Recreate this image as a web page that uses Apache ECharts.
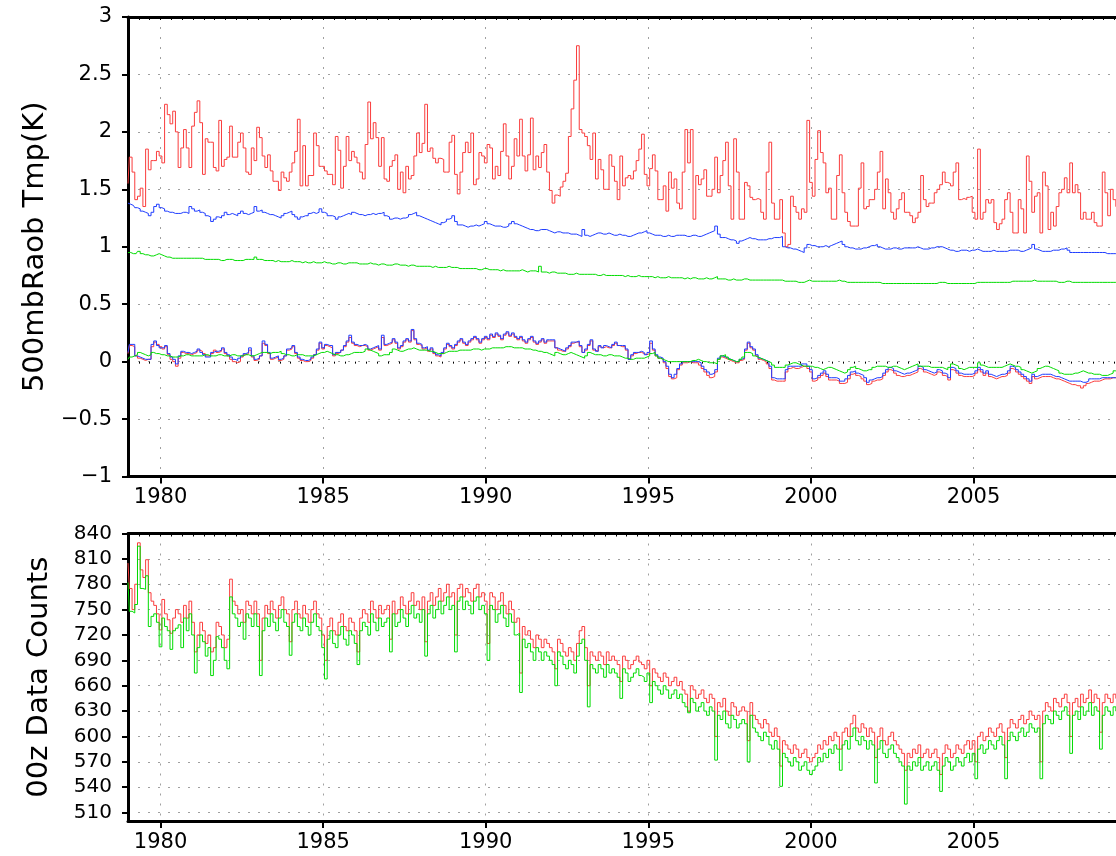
<!DOCTYPE html>
<html>
<head>
<meta charset="utf-8">
<script src="https://cdn.jsdelivr.net/npm/echarts@6/dist/echarts.min.js"></script>
<style>
html, body { margin: 0; padding: 0; background: #fff; overflow: hidden; }
#chart { width: 1116px; height: 856px; }
</style>
</head>
<body>
<div id="chart"></div>
<script>
// Monthly series starting January 1979
const START_YEAR = 1979;
const END_YEAR = 2009.38;

const yearTicks = [1980, 1985, 1990, 1995, 2000, 2005];
const countTicks = [510, 540, 570, 600, 630, 660, 690, 720, 750, 780, 810, 840];

// 500mb radiosonde temperature RMS (K), one value per month
const rmsRed = [
  1.55, 1.78, 1.65, 1.41, 1.44, 1.51, 1.35, 1.85, 1.67, 1.75, 1.75, 1.83,
  1.79, 1.73, 2.24, 2.15, 2.07, 2.18, 2.00, 1.69, 1.86, 2.02, 1.86, 1.69,
  2.05, 2.17, 2.27, 2.08, 1.63, 1.94, 1.91, 1.91, 1.69, 1.66, 2.10, 1.70,
  1.76, 1.78, 2.05, 1.78, 1.78, 1.91, 1.99, 1.86, 1.65, 1.63, 1.86, 1.75,
  2.04, 1.95, 1.79, 1.69, 1.80, 1.66, 1.57, 1.57, 1.49, 1.65, 1.60, 1.57,
  1.65, 1.73, 1.83, 2.11, 1.53, 1.88, 1.53, 1.62, 1.62, 1.99, 1.88, 1.70,
  1.70, 1.66, 1.63, 1.63, 1.54, 1.96, 1.84, 1.51, 1.70, 1.96, 1.75, 1.83,
  1.78, 1.73, 1.65, 1.59, 1.89, 2.26, 1.94, 2.08, 1.95, 1.70, 1.95, 1.59,
  1.57, 1.70, 1.75, 1.80, 1.50, 1.65, 1.47, 1.70, 1.59, 1.62, 1.79, 1.99,
  1.82, 1.90, 2.24, 1.83, 1.86, 1.77, 1.73, 1.77, 1.76, 1.65, 1.65, 1.91,
  1.97, 1.63, 1.46, 1.65, 1.82, 1.91, 1.82, 1.99, 1.54, 1.59, 1.82, 1.79,
  1.73, 1.89, 1.86, 1.59, 1.70, 1.62, 1.83, 2.07, 1.79, 1.59, 1.70, 1.94,
  1.79, 2.11, 1.79, 1.66, 1.80, 2.12, 1.67, 1.79, 1.69, 1.82, 1.89, 1.65,
  1.49, 1.38, 1.45, 1.44, 1.52, 1.57, 1.64, 1.96, 2.20, 2.45, 2.75, 2.02,
  1.99, 1.96, 1.88, 1.76, 1.99, 1.59, 1.76, 1.67, 1.50, 1.50, 1.80, 1.70,
  1.57, 1.41, 1.79, 1.53, 1.60, 1.62, 1.59, 1.66, 1.75, 1.85, 1.98, 1.63,
  1.53, 1.68, 1.80, 1.66, 1.41, 1.41, 1.53, 1.31, 1.65, 1.51, 1.59, 1.38,
  1.33, 1.65, 2.02, 1.73, 2.02, 1.24, 1.62, 1.54, 1.59, 1.67, 1.44, 1.44,
  1.50, 1.78, 1.47, 1.62, 1.75, 1.91, 1.53, 1.24, 1.94, 1.65, 1.24, 1.24,
  1.56, 1.53, 1.43, 1.41, 1.42, 1.41, 1.30, 1.24, 1.65, 1.91, 1.38, 1.24,
  1.24, 1.41, 1.12, 1.00, 1.02, 1.44, 1.35, 1.30, 1.24, 1.33, 1.30, 2.10,
  1.56, 1.44, 1.76, 2.01, 1.82, 1.73, 1.47, 1.51, 1.24, 1.24, 1.62, 1.80,
  1.47, 1.30, 1.22, 1.18, 1.18, 1.18, 1.51, 1.73, 1.33, 1.35, 1.41, 1.41,
  1.50, 1.65, 1.83, 1.33, 1.59, 1.47, 1.30, 1.24, 1.33, 1.41, 1.47, 1.30,
  1.30, 1.27, 1.21, 1.25, 1.30, 1.62, 1.41, 1.35, 1.38, 1.38, 1.47, 1.50,
  1.54, 1.65, 1.56, 1.55, 1.53, 1.65, 1.73, 1.41, 1.42, 1.41, 1.43, 1.44,
  1.30, 1.24, 1.85, 1.24, 1.30, 1.41, 1.38, 1.41, 1.21, 1.15, 1.20, 1.24,
  1.41, 1.47, 1.30, 1.12, 1.12, 1.41, 1.33, 1.12, 1.79, 1.57, 1.30, 1.44,
  1.47, 1.12, 1.65, 1.53, 1.15, 1.30, 1.18, 1.35, 1.47, 1.50, 1.60, 1.47,
  1.73, 1.47, 1.54, 1.47, 1.24, 1.30, 1.24, 1.24, 1.30, 1.21, 1.18, 1.18,
  1.65, 1.47, 1.27, 1.50, 1.41, 1.35
];
const rmsBlue = [
  1.38, 1.37, 1.36, 1.34, 1.33, 1.31, 1.30, 1.29, 1.27, 1.30, 1.35, 1.37,
  1.34, 1.33, 1.31, 1.30, 1.30, 1.29, 1.29, 1.29, 1.30, 1.30, 1.29, 1.35,
  1.33, 1.31, 1.32, 1.30, 1.29, 1.27, 1.26, 1.22, 1.24, 1.26, 1.25, 1.27,
  1.30, 1.28, 1.29, 1.28, 1.27, 1.29, 1.31, 1.29, 1.28, 1.29, 1.30, 1.35,
  1.31, 1.32, 1.30, 1.29, 1.28, 1.28, 1.27, 1.26, 1.25, 1.27, 1.29, 1.30,
  1.31, 1.28, 1.26, 1.24, 1.26, 1.27, 1.27, 1.29, 1.30, 1.29, 1.30, 1.33,
  1.30, 1.29, 1.27, 1.27, 1.26, 1.24, 1.26, 1.27, 1.28, 1.29, 1.28, 1.30,
  1.29, 1.28, 1.28, 1.27, 1.28, 1.28, 1.29, 1.28, 1.29, 1.29, 1.30, 1.27,
  1.26, 1.24, 1.25, 1.25, 1.24, 1.25, 1.25, 1.26, 1.28, 1.29, 1.30, 1.27,
  1.26, 1.25, 1.24, 1.23, 1.22, 1.21, 1.20, 1.19, 1.21, 1.22, 1.24, 1.25,
  1.27, 1.22, 1.19, 1.19, 1.18, 1.17, 1.18, 1.18, 1.19, 1.18, 1.19, 1.20,
  1.22, 1.20, 1.19, 1.18, 1.18, 1.18, 1.17, 1.17, 1.18, 1.20, 1.22, 1.20,
  1.19, 1.18, 1.17, 1.16, 1.15, 1.15, 1.14, 1.14, 1.15, 1.15, 1.15, 1.14,
  1.13, 1.12, 1.13, 1.13, 1.12, 1.12, 1.12, 1.11, 1.11, 1.11, 1.10, 1.09,
  1.15, 1.10, 1.09, 1.10, 1.11, 1.12, 1.12, 1.11, 1.11, 1.12, 1.11, 1.10,
  1.10, 1.11, 1.10, 1.10, 1.09, 1.09, 1.10, 1.11, 1.12, 1.12, 1.13, 1.14,
  1.12, 1.11, 1.10, 1.10, 1.10, 1.09, 1.09, 1.10, 1.09, 1.09, 1.10, 1.10,
  1.10, 1.10, 1.09, 1.09, 1.10, 1.10, 1.09, 1.09, 1.10, 1.11, 1.12, 1.13,
  1.14, 1.18, 1.11, 1.08, 1.08, 1.07, 1.06, 1.06, 1.05, 1.03, 1.05, 1.06,
  1.07, 1.08, 1.07, 1.07, 1.06, 1.06, 1.06, 1.06, 1.07, 1.07, 1.08, 1.08,
  1.08, 1.09, 1.00, 0.99, 0.99, 0.98, 0.98, 0.97, 0.96, 0.95, 0.99, 1.02,
  1.01, 1.01, 1.00, 1.00, 1.00, 1.01, 1.00, 1.01, 1.02, 1.03, 1.04, 1.05,
  1.02, 1.00, 0.99, 0.99, 0.98, 0.98, 0.98, 0.99, 0.99, 1.00, 1.01, 1.01,
  1.02, 1.00, 0.99, 0.98, 0.98, 0.98, 0.99, 0.99, 0.98, 0.98, 0.99, 0.99,
  0.99, 0.99, 0.99, 1.00, 0.99, 0.98, 0.98, 0.98, 0.99, 0.99, 1.00, 1.00,
  1.00, 0.99, 0.98, 0.97, 0.97, 0.96, 0.96, 0.97, 0.97, 0.97, 0.96, 0.97,
  0.97, 0.98, 0.97, 0.96, 0.96, 0.96, 0.96, 0.97, 0.96, 0.96, 0.96, 0.96,
  0.96, 0.97, 0.97, 0.97, 0.97, 0.96, 0.96, 0.97, 0.98, 0.99, 1.02, 0.98,
  0.97, 0.96, 0.96, 0.96, 0.96, 0.97, 0.97, 0.97, 0.98, 0.98, 0.99, 0.97,
  0.95, 0.95, 0.95, 0.95, 0.95, 0.95, 0.95, 0.95, 0.95, 0.95, 0.95, 0.95,
  0.95, 0.94, 0.94, 0.94, 0.94, 0.94
];
const rmsGreen = [
  0.95, 0.95, 0.94, 0.94, 0.96, 0.94, 0.93, 0.93, 0.92, 0.92, 0.93, 0.94,
  0.93, 0.92, 0.91, 0.91, 0.90, 0.90, 0.90, 0.90, 0.90, 0.90, 0.90, 0.90,
  0.90, 0.90, 0.90, 0.90, 0.89, 0.89, 0.89, 0.89, 0.89, 0.89, 0.88, 0.88,
  0.89, 0.89, 0.89, 0.88, 0.88, 0.88, 0.88, 0.89, 0.89, 0.89, 0.89, 0.91,
  0.89, 0.89, 0.88, 0.88, 0.88, 0.88, 0.87, 0.88, 0.87, 0.87, 0.87, 0.87,
  0.88, 0.87, 0.87, 0.87, 0.86, 0.87, 0.86, 0.86, 0.87, 0.86, 0.86, 0.86,
  0.87, 0.86, 0.86, 0.85, 0.85, 0.86, 0.86, 0.85, 0.85, 0.86, 0.86, 0.86,
  0.86, 0.85, 0.85, 0.85, 0.85, 0.86, 0.85, 0.85, 0.84, 0.85, 0.85, 0.84,
  0.84, 0.84, 0.85, 0.85, 0.84, 0.84, 0.84, 0.83, 0.84, 0.84, 0.83, 0.83,
  0.83, 0.83, 0.83, 0.83, 0.82, 0.83, 0.82, 0.82, 0.82, 0.82, 0.83, 0.82,
  0.82, 0.82, 0.81, 0.81, 0.81, 0.81, 0.81, 0.81, 0.81, 0.80, 0.80, 0.81,
  0.81, 0.80, 0.80, 0.80, 0.80, 0.79, 0.80, 0.79, 0.79, 0.79, 0.79, 0.79,
  0.79, 0.80, 0.79, 0.78, 0.79, 0.79, 0.79, 0.78, 0.83, 0.78, 0.78, 0.77,
  0.78, 0.78, 0.77, 0.77, 0.77, 0.77, 0.76, 0.76, 0.76, 0.77, 0.76, 0.76,
  0.76, 0.76, 0.76, 0.76, 0.76, 0.75, 0.75, 0.76, 0.75, 0.75, 0.75, 0.75,
  0.75, 0.75, 0.75, 0.74, 0.75, 0.74, 0.74, 0.74, 0.75, 0.74, 0.74, 0.74,
  0.74, 0.74, 0.73, 0.74, 0.73, 0.73, 0.73, 0.74, 0.73, 0.73, 0.73, 0.73,
  0.73, 0.72, 0.73, 0.72, 0.73, 0.73, 0.72, 0.72, 0.72, 0.73, 0.72, 0.72,
  0.73, 0.74, 0.72, 0.72, 0.72, 0.71, 0.71, 0.72, 0.71, 0.71, 0.71, 0.72,
  0.72, 0.71, 0.71, 0.71, 0.71, 0.71, 0.71, 0.71, 0.71, 0.71, 0.71, 0.71,
  0.71, 0.71, 0.70, 0.70, 0.70, 0.70, 0.70, 0.69, 0.69, 0.69, 0.70, 0.71,
  0.70, 0.70, 0.70, 0.70, 0.70, 0.70, 0.70, 0.70, 0.70, 0.70, 0.71, 0.70,
  0.70, 0.69, 0.69, 0.69, 0.69, 0.69, 0.69, 0.69, 0.69, 0.69, 0.69, 0.69,
  0.69, 0.69, 0.68, 0.68, 0.68, 0.68, 0.68, 0.68, 0.68, 0.68, 0.68, 0.68,
  0.68, 0.68, 0.68, 0.68, 0.68, 0.68, 0.68, 0.68, 0.68, 0.68, 0.68, 0.69,
  0.69, 0.69, 0.68, 0.68, 0.68, 0.68, 0.68, 0.68, 0.68, 0.68, 0.68, 0.68,
  0.68, 0.69, 0.69, 0.69, 0.69, 0.69, 0.69, 0.69, 0.69, 0.69, 0.69, 0.69,
  0.69, 0.69, 0.70, 0.70, 0.70, 0.70, 0.70, 0.70, 0.70, 0.70, 0.71, 0.70,
  0.70, 0.70, 0.70, 0.70, 0.70, 0.70, 0.70, 0.69, 0.69, 0.69, 0.70, 0.70,
  0.69, 0.69, 0.69, 0.69, 0.69, 0.69, 0.69, 0.69, 0.69, 0.69, 0.69, 0.69,
  0.69, 0.69, 0.69, 0.69, 0.69, 0.69
];

// 500mb radiosonde temperature bias (K), one value per month
const biasRed = [
  0.07, 0.14, 0.13, 0.05, 0.03, 0.02, 0.01, 0.02, 0.02, 0.13, 0.17, 0.15,
  0.13, 0.11, 0.13, 0.06, 0.02, 0.00, -0.04, 0.03, 0.08, 0.07, 0.07, 0.06,
  0.07, 0.08, 0.10, 0.09, 0.07, 0.05, 0.05, 0.07, 0.10, 0.08, 0.09, 0.11,
  0.07, 0.05, 0.02, 0.00, -0.01, 0.00, 0.04, 0.06, 0.07, 0.10, 0.04, 0.01,
  0.02, 0.05, 0.16, 0.14, 0.07, 0.02, 0.03, 0.04, 0.01, 0.02, 0.05, 0.10,
  0.11, 0.13, 0.07, 0.03, 0.01, 0.00, 0.00, 0.01, 0.03, 0.06, 0.10, 0.16,
  0.11, 0.14, 0.13, 0.12, 0.05, 0.07, 0.08, 0.10, 0.13, 0.17, 0.21, 0.16,
  0.14, 0.13, 0.14, 0.14, 0.13, 0.10, 0.11, 0.12, 0.13, 0.10, 0.21, 0.14,
  0.15, 0.16, 0.19, 0.16, 0.11, 0.13, 0.17, 0.19, 0.17, 0.27, 0.19, 0.15,
  0.14, 0.11, 0.12, 0.09, 0.11, 0.07, 0.05, 0.04, 0.07, 0.11, 0.15, 0.13,
  0.11, 0.14, 0.17, 0.19, 0.16, 0.14, 0.17, 0.19, 0.21, 0.19, 0.16, 0.19,
  0.21, 0.19, 0.23, 0.21, 0.24, 0.22, 0.19, 0.23, 0.25, 0.22, 0.24, 0.21,
  0.19, 0.21, 0.18, 0.16, 0.19, 0.21, 0.17, 0.15, 0.17, 0.19, 0.16, 0.18,
  0.18, 0.18, 0.12, 0.10, 0.09, 0.09, 0.11, 0.13, 0.16, 0.17, 0.17, 0.13,
  0.08, 0.10, 0.14, 0.18, 0.10, 0.09, 0.13, 0.12, 0.13, 0.12, 0.12, 0.14,
  0.16, 0.14, 0.13, 0.13, 0.10, 0.02, 0.05, 0.07, 0.08, 0.08, 0.07, 0.06,
  0.07, 0.16, 0.10, 0.05, 0.03, 0.02, -0.01, -0.06, -0.13, -0.15, -0.14, -0.07,
  -0.03, -0.01, -0.01, 0.00, -0.01, -0.01, -0.01, -0.03, -0.06, -0.09, -0.12, -0.14,
  -0.13, -0.09, 0.02, 0.04, 0.03, 0.02, 0.01, 0.00, -0.01, -0.01, 0.01, 0.02,
  0.10, 0.16, 0.12, 0.10, 0.05, 0.02, 0.01, 0.00, -0.02, -0.06, -0.16, -0.17,
  -0.17, -0.17, -0.17, -0.09, -0.06, -0.05, -0.06, -0.06, -0.05, -0.04, -0.04, -0.06,
  -0.09, -0.17, -0.16, -0.14, -0.12, -0.10, -0.13, -0.16, -0.16, -0.16, -0.17, -0.19,
  -0.19, -0.18, -0.15, -0.11, -0.10, -0.12, -0.13, -0.15, -0.17, -0.20, -0.19, -0.17,
  -0.16, -0.16, -0.15, -0.12, -0.09, -0.07, -0.08, -0.10, -0.12, -0.13, -0.13, -0.12,
  -0.12, -0.11, -0.10, -0.09, -0.06, -0.07, -0.09, -0.10, -0.11, -0.12, -0.11, -0.09,
  -0.10, -0.12, -0.13, -0.16, -0.07, -0.08, -0.10, -0.12, -0.13, -0.13, -0.13, -0.13,
  -0.12, -0.10, -0.07, -0.09, -0.12, -0.10, -0.13, -0.14, -0.15, -0.14, -0.13, -0.13,
  -0.12, -0.10, -0.06, -0.07, -0.09, -0.11, -0.13, -0.15, -0.17, -0.19, -0.13, -0.15,
  -0.14, -0.13, -0.13, -0.13, -0.13, -0.14, -0.15, -0.15, -0.16, -0.17, -0.18, -0.19,
  -0.20, -0.20, -0.21, -0.21, -0.23, -0.21, -0.19, -0.18, -0.17, -0.17, -0.17, -0.16,
  -0.15, -0.15, -0.15, -0.14, -0.14, -0.14
];
const biasBlue = [
  0.08, 0.15, 0.15, 0.05, 0.04, 0.03, 0.02, 0.02, 0.02, 0.15, 0.18, 0.14,
  0.12, 0.12, 0.14, 0.07, 0.04, 0.02, -0.02, 0.05, 0.09, 0.08, 0.08, 0.07,
  0.08, 0.09, 0.11, 0.08, 0.06, 0.04, 0.04, 0.08, 0.09, 0.09, 0.10, 0.12,
  0.08, 0.06, 0.04, 0.02, 0.01, 0.03, 0.05, 0.07, 0.08, 0.12, 0.05, 0.02,
  0.03, 0.05, 0.18, 0.15, 0.08, 0.03, 0.04, 0.05, 0.02, 0.03, 0.05, 0.11,
  0.12, 0.14, 0.08, 0.04, 0.02, 0.01, 0.01, 0.02, 0.04, 0.06, 0.11, 0.17,
  0.12, 0.15, 0.14, 0.14, 0.06, 0.08, 0.08, 0.10, 0.14, 0.18, 0.23, 0.17,
  0.15, 0.14, 0.14, 0.15, 0.14, 0.11, 0.12, 0.13, 0.14, 0.11, 0.23, 0.15,
  0.16, 0.17, 0.20, 0.17, 0.12, 0.14, 0.18, 0.20, 0.18, 0.28, 0.20, 0.16,
  0.15, 0.12, 0.13, 0.10, 0.12, 0.08, 0.06, 0.05, 0.08, 0.12, 0.16, 0.14,
  0.12, 0.15, 0.18, 0.20, 0.17, 0.15, 0.18, 0.20, 0.22, 0.20, 0.17, 0.20,
  0.22, 0.20, 0.24, 0.22, 0.25, 0.23, 0.20, 0.24, 0.26, 0.23, 0.25, 0.22,
  0.20, 0.22, 0.19, 0.17, 0.20, 0.22, 0.18, 0.16, 0.18, 0.20, 0.17, 0.19,
  0.19, 0.19, 0.12, 0.11, 0.10, 0.09, 0.12, 0.14, 0.17, 0.17, 0.18, 0.14,
  0.08, 0.11, 0.15, 0.19, 0.11, 0.09, 0.14, 0.12, 0.14, 0.13, 0.12, 0.15,
  0.17, 0.14, 0.14, 0.14, 0.11, 0.02, 0.06, 0.08, 0.08, 0.09, 0.08, 0.06,
  0.08, 0.18, 0.11, 0.06, 0.04, 0.03, 0.00, -0.04, -0.11, -0.14, -0.11, -0.06,
  -0.02, 0.00, 0.00, 0.00, 0.00, 0.00, 0.00, -0.01, -0.04, -0.07, -0.09, -0.11,
  -0.10, -0.07, 0.03, 0.05, 0.04, 0.03, 0.02, 0.01, 0.00, 0.00, 0.02, 0.03,
  0.11, 0.17, 0.13, 0.11, 0.06, 0.03, 0.02, 0.01, 0.00, -0.04, -0.14, -0.15,
  -0.15, -0.15, -0.15, -0.07, -0.04, -0.04, -0.04, -0.04, -0.04, -0.02, -0.02, -0.04,
  -0.07, -0.15, -0.14, -0.12, -0.10, -0.08, -0.11, -0.14, -0.14, -0.14, -0.15, -0.17,
  -0.17, -0.15, -0.12, -0.09, -0.08, -0.10, -0.11, -0.12, -0.14, -0.18, -0.16, -0.15,
  -0.14, -0.14, -0.13, -0.10, -0.07, -0.05, -0.06, -0.08, -0.09, -0.10, -0.11, -0.10,
  -0.10, -0.09, -0.08, -0.07, -0.04, -0.05, -0.07, -0.08, -0.09, -0.10, -0.09, -0.07,
  -0.08, -0.10, -0.11, -0.14, -0.05, -0.06, -0.08, -0.10, -0.11, -0.11, -0.11, -0.11,
  -0.10, -0.08, -0.05, -0.07, -0.10, -0.08, -0.11, -0.12, -0.13, -0.12, -0.11, -0.11,
  -0.10, -0.08, -0.04, -0.05, -0.07, -0.09, -0.11, -0.13, -0.15, -0.17, -0.11, -0.13,
  -0.12, -0.11, -0.11, -0.11, -0.11, -0.12, -0.13, -0.13, -0.14, -0.15, -0.16, -0.17,
  -0.17, -0.17, -0.17, -0.17, -0.18, -0.18, -0.17, -0.15, -0.15, -0.15, -0.15, -0.14,
  -0.14, -0.14, -0.14, -0.14, -0.14, -0.14
];
const biasGreen = [
  0.02, 0.04, 0.05, 0.06, 0.08, 0.07, 0.06, 0.05, 0.06, 0.08, 0.07, 0.07,
  0.06, 0.06, 0.05, 0.05, 0.04, 0.04, 0.04, 0.05, 0.05, 0.06, 0.06, 0.05,
  0.05, 0.05, 0.05, 0.05, 0.06, 0.06, 0.05, 0.05, 0.05, 0.06, 0.06, 0.05,
  0.05, 0.05, 0.06, 0.06, 0.05, 0.05, 0.05, 0.06, 0.06, 0.05, 0.05, 0.06,
  0.07, 0.08, 0.08, 0.08, 0.07, 0.08, 0.08, 0.08, 0.09, 0.07, 0.06, 0.06,
  0.05, 0.05, 0.06, 0.06, 0.06, 0.05, 0.05, 0.05, 0.05, 0.06, 0.07, 0.08,
  0.08, 0.09, 0.08, 0.07, 0.06, 0.06, 0.05, 0.05, 0.06, 0.06, 0.07, 0.08,
  0.08, 0.08, 0.08, 0.09, 0.11, 0.10, 0.09, 0.08, 0.07, 0.05, 0.06, 0.06,
  0.06, 0.08, 0.11, 0.10, 0.09, 0.09, 0.10, 0.11, 0.11, 0.12, 0.11, 0.10,
  0.10, 0.10, 0.10, 0.09, 0.09, 0.08, 0.07, 0.07, 0.07, 0.08, 0.09, 0.09,
  0.09, 0.09, 0.10, 0.10, 0.10, 0.10, 0.10, 0.11, 0.11, 0.11, 0.10, 0.11,
  0.11, 0.11, 0.12, 0.12, 0.12, 0.12, 0.12, 0.13, 0.13, 0.13, 0.12, 0.12,
  0.12, 0.12, 0.11, 0.11, 0.11, 0.10, 0.10, 0.09, 0.09, 0.08, 0.08, 0.07,
  0.06, 0.05, 0.08, 0.07, 0.06, 0.06, 0.07, 0.08, 0.07, 0.06, 0.05, 0.04,
  0.03, 0.05, 0.08, 0.07, 0.06, 0.06, 0.06, 0.05, 0.05, 0.06, 0.06, 0.05,
  0.05, 0.05, 0.04, 0.03, 0.03, 0.02, 0.02, 0.03, 0.03, 0.03, 0.03, 0.04,
  0.05, 0.07, 0.08, 0.05, 0.03, 0.02, 0.01, 0.00, 0.00, 0.00, 0.00, 0.00,
  0.00, 0.00, 0.00, 0.00, 0.01, 0.01, 0.02, 0.01, 0.00, 0.00, -0.01, -0.01,
  -0.01, -0.02, 0.02, 0.05, 0.06, 0.04, 0.02, 0.01, 0.00, 0.00, 0.02, 0.04,
  0.08, 0.08, 0.07, 0.05, 0.04, 0.03, 0.02, 0.01, 0.00, -0.01, -0.03, -0.05,
  -0.05, -0.05, -0.05, -0.03, -0.02, -0.01, -0.01, -0.02, -0.03, -0.04, -0.04, -0.04,
  -0.04, -0.05, -0.05, -0.06, -0.07, -0.06, -0.05, -0.05, -0.06, -0.07, -0.08, -0.09,
  -0.10, -0.09, -0.07, -0.05, -0.04, -0.06, -0.07, -0.08, -0.08, -0.07, -0.07, -0.05,
  -0.04, -0.04, -0.04, -0.04, -0.05, -0.05, -0.04, -0.04, -0.05, -0.06, -0.07, -0.06,
  -0.05, -0.04, -0.03, -0.02, -0.04, -0.04, -0.04, -0.04, -0.05, -0.05, -0.05, -0.05,
  -0.05, -0.06, -0.07, -0.05, -0.02, -0.03, -0.04, -0.06, -0.07, -0.06, -0.05, -0.05,
  -0.05, -0.05, -0.01, -0.03, -0.04, -0.05, -0.05, -0.05, -0.05, -0.05, -0.05, -0.04,
  -0.03, -0.02, -0.03, -0.04, -0.04, -0.05, -0.07, -0.08, -0.09, -0.10, -0.09, -0.08,
  -0.06, -0.05, -0.04, -0.04, -0.05, -0.06, -0.07, -0.08, -0.10, -0.11, -0.11, -0.11,
  -0.11, -0.10, -0.10, -0.09, -0.08, -0.09, -0.10, -0.10, -0.11, -0.11, -0.11, -0.12,
  -0.12, -0.12, -0.11, -0.10, -0.08, -0.07
];

// 00z radiosonde data counts, one value per month
const countRed = [
  805, 775, 750, 780, 829, 797, 788, 809, 770, 760, 755, 745,
  726, 762, 745, 738, 722, 740, 750, 745, 735, 755, 740, 760,
  735, 700, 720, 735, 725, 710, 720, 700, 705, 735, 730, 720,
  705, 715, 786, 760, 755, 745, 750, 735, 760, 755, 745, 760,
  745, 690, 740, 755, 745, 760, 750, 740, 755, 765, 750, 745,
  712, 750, 760, 745, 740, 755, 745, 735, 750, 760, 745, 740,
  720, 690, 730, 740, 725, 720, 735, 745, 730, 725, 740, 735,
  725, 700, 740, 750, 745, 735, 760, 750, 740, 755, 745, 750,
  755, 715, 760, 745, 750, 765, 755, 745, 760, 770, 755, 760,
  750, 765, 712, 760, 770, 755, 765, 775, 760, 770, 780, 765,
  770, 720, 775, 780, 765, 775, 770, 760, 775, 780, 765, 770,
  760, 710, 770, 765, 750, 760, 770, 755, 745, 760, 750, 735,
  740, 675, 730, 720, 725, 715, 705, 720, 715, 705, 715, 710,
  705, 700, 680, 715, 710, 700, 695, 705, 700, 690, 710, 725,
  730, 705, 660, 700, 695, 690, 700, 695, 685, 700, 690, 695,
  690, 685, 665, 695, 690, 680, 685, 690, 695, 688, 685, 680,
  690, 660, 680, 675, 670, 665, 675, 670, 660, 665, 670, 660,
  665, 655, 650, 630, 660, 655, 645, 650, 655, 645, 640, 650,
  645, 600, 640, 635, 645, 630, 625, 640, 635, 625, 630, 635,
  630, 595, 640, 625, 620, 615, 610, 620, 615, 605, 600, 610,
  600, 565, 595, 590, 585, 580, 590, 585, 575, 580, 585, 575,
  570, 575, 580, 590, 585, 595, 590, 600, 595, 605, 600, 585,
  605, 610, 600, 615, 625, 610, 605, 615, 610, 600, 610, 605,
  575, 600, 610, 595, 590, 600, 605, 595, 590, 585, 580, 560,
  580, 575, 585, 580, 590, 575, 580, 585, 575, 580, 585, 575,
  555, 580, 590, 585, 575, 580, 590, 585, 580, 590, 595, 585,
  595, 570, 600, 605, 595, 600, 610, 605, 600, 610, 615, 605,
  575, 610, 620, 615, 610, 620, 625, 615, 620, 630, 625, 620,
  625, 570, 630, 640, 635, 630, 645, 640, 635, 645, 650, 640,
  600, 640, 645, 635, 650, 640, 645, 655, 640, 650, 645, 605,
  640, 650, 645, 640, 650, 645
];
const countGreen = [
  782, 748, 746, 756, 825, 775, 774, 790, 730, 742, 745, 735,
  706, 740, 730, 725, 703, 725, 728, 732, 705, 740, 725, 745,
  720, 675, 705, 720, 712, 695, 705, 672, 690, 718, 715, 705,
  690, 680, 765, 745, 740, 730, 735, 715, 745, 740, 730, 745,
  730, 672, 725, 740, 730, 745, 735, 725, 740, 750, 735, 730,
  696, 735, 745, 730, 725, 740, 730, 720, 735, 745, 730, 725,
  705, 668, 715, 725, 710, 705, 720, 730, 715, 708, 725, 720,
  710, 685, 725, 735, 730, 720, 745, 735, 725, 740, 730, 735,
  740, 700, 745, 730, 735, 750, 740, 730, 745, 755, 740, 745,
  735, 750, 695, 745, 755, 740, 750, 760, 745, 755, 765, 750,
  755, 700, 760, 765, 750, 760, 755, 745, 760, 765, 750, 755,
  745, 690, 755, 750, 735, 745, 755, 740, 730, 745, 735, 720,
  722, 652, 715, 705, 710, 700, 690, 705, 700, 690, 700, 695,
  690, 685, 660, 700, 695, 685, 680, 690, 685, 675, 695, 710,
  715, 690, 635, 685, 680, 675, 685, 680, 670, 685, 675, 680,
  675, 670, 645, 680, 675, 665, 670, 675, 680, 672, 670, 665,
  675, 640, 665, 660, 655, 650, 660, 655, 645, 650, 655, 645,
  650, 640, 635, 628, 645, 640, 630, 635, 640, 630, 625, 635,
  630, 572, 625, 620, 630, 615, 610, 625, 620, 610, 615, 620,
  615, 570, 625, 610, 605, 600, 595, 605, 600, 590, 585, 595,
  585, 541, 580, 575, 570, 565, 575, 570, 560, 565, 570, 560,
  555, 560, 565, 575, 570, 580, 575, 585, 580, 590, 585, 560,
  590, 595, 585, 600, 610, 595, 590, 600, 595, 585, 595, 590,
  545, 585, 595, 580, 575, 585, 590, 580, 575, 570, 565, 520,
  565, 560, 570, 565, 575, 560, 565, 570, 560, 565, 570, 560,
  535, 565, 575, 570, 560, 565, 575, 570, 565, 575, 580, 570,
  580, 550, 585, 590, 580, 585, 595, 590, 585, 595, 600, 590,
  550, 595, 605, 600, 595, 605, 610, 600, 605, 615, 610, 605,
  610, 550, 615, 625, 620, 615, 630, 625, 620, 630, 635, 625,
  580, 625, 630, 620, 635, 625, 630, 640, 625, 635, 630, 585,
  625, 635, 630, 625, 635, 630
];

// GrADS-style colours
const RED = 'rgb(250,60,60)';
const GREEN = 'rgb(0,220,0)';
const BLUE = 'rgb(30,60,255)';
const FONT = 'DejaVu Sans';

function monthly(values) {
  return values.map((v, i) => [START_YEAR + i / 12, v]);
}

const dotted = { color: '#a0a0a0', width: 1, type: [2, 8] };
const monthsSpan = (END_YEAR - START_YEAR) * 12;

function mainXAxis(gridIndex) {
  return {
    type: 'value', gridIndex, position: 'bottom',
    min: START_YEAR, max: END_YEAR,
    axisLine: { show: true, onZero: false, lineStyle: { color: '#000', width: 3 } },
    axisTick: { show: true, customValues: yearTicks, length: 7, lineStyle: { color: '#000', width: 2 } },
    axisLabel: { customValues: yearTicks, color: '#000', fontFamily: FONT, fontSize: 21, margin: 11,
                 formatter: v => String(v) },
    splitLine: { show: true, lineStyle: dotted }
  };
}
// Small ticks every four months along the bottom edge
function minorXAxis(gridIndex) {
  return {
    type: 'value', gridIndex, position: 'bottom',
    min: 0, max: monthsSpan, interval: 4,
    axisLine: { show: false },
    axisTick: { show: true, length: 2, lineStyle: { color: '#000', width: 1 } },
    axisLabel: { show: false },
    splitLine: { show: false }
  };
}
// Top frame edge with small inward ticks
function topXAxis(gridIndex) {
  return {
    type: 'value', gridIndex, position: 'top',
    min: 0, max: monthsSpan, interval: 4,
    axisLine: { show: true, onZero: false, lineStyle: { color: '#000', width: 3 } },
    axisTick: { show: true, inside: true, length: 3, lineStyle: { color: '#000', width: 1 } },
    axisLabel: { show: false },
    splitLine: { show: false }
  };
}

function line(name, data, color, xi, yi) {
  return {
    name, type: 'line', xAxisIndex: xi, yAxisIndex: yi,
    data: monthly(data), showSymbol: false, symbol: 'none',
    step: 'middle', animation: false, clip: true,
    lineStyle: { color, width: 1 }, itemStyle: { color },
    z: 3
  };
}

const chart = echarts.init(document.getElementById('chart'), null, { renderer: 'canvas' });
chart.setOption({
  backgroundColor: '#fff',
  animation: false,
  grid: [
    { left: 128, right: 0, top: 17, height: 459.5 },
    { left: 128, right: 0, top: 533.5, height: 287.5 }
  ],
  xAxis: [mainXAxis(0), minorXAxis(0), topXAxis(0), mainXAxis(1), minorXAxis(1), topXAxis(1)],
  yAxis: [
    {
      type: 'value', gridIndex: 0, min: -1, max: 3, interval: 0.5,
      name: '500mbRaob Tmp(K)', nameLocation: 'middle', nameRotate: 90, nameGap: 74,
      nameTextStyle: { color: '#000', fontFamily: FONT, fontSize: 29 },
      axisLine: { show: true, onZero: false, lineStyle: { color: '#000', width: 3 } },
      axisTick: { show: true, length: 6, lineStyle: { color: '#000', width: 2 } },
      axisLabel: { color: '#000', fontFamily: FONT, fontSize: 21, margin: 16,
                   formatter: v => String(v).replace('-', '\u2212') },
      splitLine: { show: true, lineStyle: dotted }
    },
    {
      type: 'value', gridIndex: 1, min: 500, max: 840,
      name: '00z Data Counts', nameLocation: 'middle', nameRotate: 90, nameGap: 74,
      nameTextStyle: { color: '#000', fontFamily: FONT, fontSize: 29 },
      axisLine: { show: true, onZero: false, lineStyle: { color: '#000', width: 3 } },
      axisTick: { show: true, customValues: countTicks, length: 6, lineStyle: { color: '#000', width: 2 } },
      axisLabel: { customValues: countTicks, color: '#000', fontFamily: FONT, fontSize: 20, margin: 16 },
      splitLine: { show: true, lineStyle: dotted }
    }
  ],
  series: [
    line('rmsRed', rmsRed, RED, 0, 0),
    line('rmsBlue', rmsBlue, BLUE, 0, 0),
    line('rmsGreen', rmsGreen, GREEN, 0, 0),
    line('biasRed', biasRed, RED, 0, 0),
    line('biasBlue', biasBlue, BLUE, 0, 0),
    line('biasGreen', biasGreen, GREEN, 0, 0),
    line('countRed', countRed, RED, 3, 1),
    line('countGreen', countGreen, GREEN, 3, 1)
  ]
});
</script>
</body>
</html>
